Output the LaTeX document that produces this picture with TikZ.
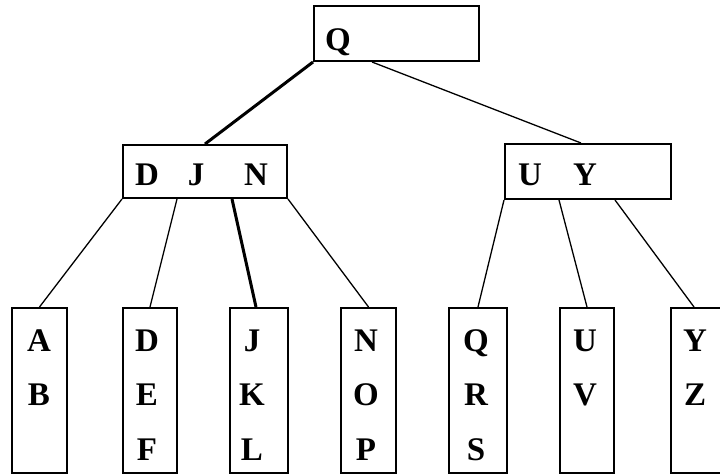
\documentclass[tikz,border=0pt]{standalone}
\usepackage{fontspec}
\setmainfont{Liberation Serif}
\begin{document}
\begin{tikzpicture}[x=1pt,y=-1pt]
\tikzset{
  keybox/.style={draw, line width=2pt, inner sep=0pt, anchor=north west},
  leafbox/.style={keybox, minimum height=165pt},
  key/.style={font=\fontsize{33}{40}\selectfont\bfseries, anchor=base, inner sep=0pt},
  link/.style={line width=1.3pt},
  heavylink/.style={line width=3pt},
}
\useasboundingbox[fill=white] (0,0) rectangle (720,474);
% internal boxes
\node[keybox, minimum width=165pt, minimum height=55pt] (root) at (313,5) {};
\node[keybox, minimum width=164pt, minimum height=53pt] (L) at (122,144) {};
\node[keybox, minimum width=166pt, minimum height=55pt] (R) at (504,143) {};
% leaves
\node[leafbox, minimum width=55pt] (lA) at (11,307) {};
\node[leafbox, minimum width=54pt] (lD) at (122,307) {};
\node[leafbox, minimum width=58pt] (lJ) at (229,307) {};
\node[leafbox, minimum width=55pt] (lN) at (340,307) {};
\node[leafbox, minimum width=58pt] (lQ) at (448,307) {};
\node[leafbox, minimum width=54pt] (lU) at (559,307) {};
\node[leafbox, minimum width=56pt] (lY) at (670,307) {};
% keys
\node[key] (kQ) at (338,50) {Q};
\node[key] (kLD) at (147,185) {D};
\node[key] (kLJ) at (196,185) {J};
\node[key] (kLN) at (256,185) {N};
\node[key] (kRU) at (530,185) {U};
\node[key] (kRY) at (585,185) {Y};
\node[key] (a1) at (39,351) {A};
\node[key] (a2) at (39,405) {B};
\node[key] (d1) at (147,351) {D};
\node[key] (d2) at (147,405) {E};
\node[key] (d3) at (147,460) {F};
\node[key] (j1) at (252,351) {J};
\node[key] (j2) at (252,405) {K};
\node[key] (j3) at (252,460) {L};
\node[key] (n1) at (366,351) {N};
\node[key] (n2) at (366,405) {O};
\node[key] (n3) at (366,460) {P};
\node[key] (q1) at (476,351) {Q};
\node[key] (q2) at (476,405) {R};
\node[key] (q3) at (476,460) {S};
\node[key] (u1) at (585,351) {U};
\node[key] (u2) at (585,405) {V};
\node[key] (y1) at (695,351) {Y};
\node[key] (y2) at (695,405) {Z};
% connectors
\draw[heavylink] (root.south west) -- (L.north);
\draw[link] ([xshift=59pt]root.south west) -- ([xshift=-7pt]R.north);
\draw[link] (L.south west) -- (lA.north);
\draw[link] ([xshift=55pt]L.south west) -- (lD.north);
\draw[heavylink] ([xshift=110pt]L.south west) -- ([xshift=-3pt]lJ.north);
\draw[link] (L.south east) -- (lN.north);
\draw[link] (R.south west) -- (lQ.north);
\draw[link] ([xshift=55pt]R.south west) -- (lU.north);
\draw[link] ([xshift=111pt]R.south west) -- ([xshift=-5pt]lY.north);
\end{tikzpicture}
\end{document}
